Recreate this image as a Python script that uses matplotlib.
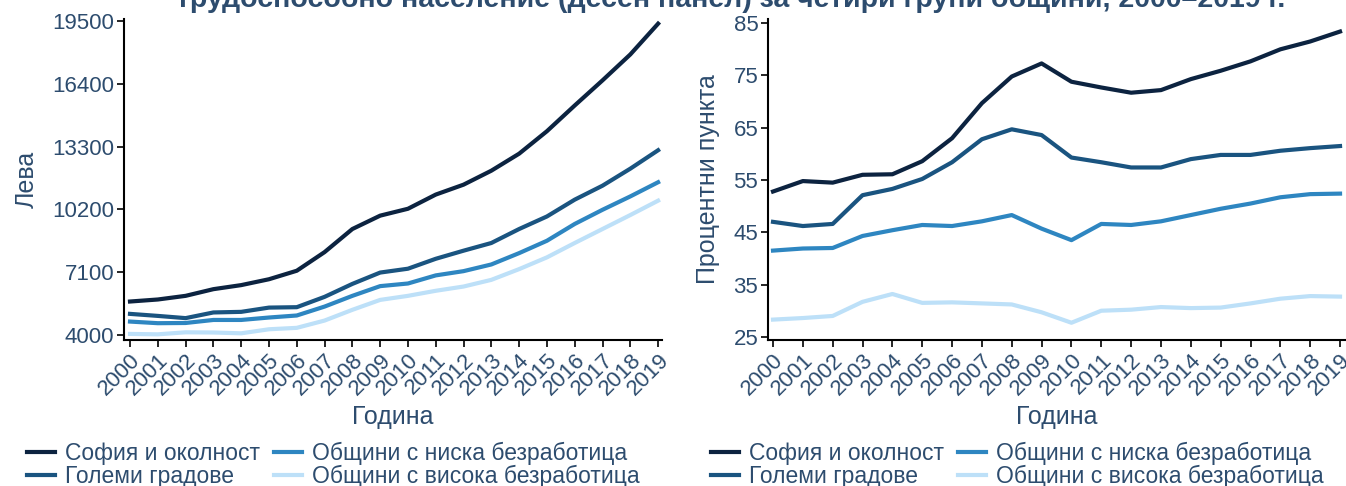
import matplotlib
matplotlib.use("Agg")
import matplotlib.pyplot as plt

years = [str(y) for y in range(2000, 2020)]
series_names = ["София и околност", "Големи градове",
                "Общини с ниска безработица", "Общини с висока безработица"]

# Left panel: average wage (leva)
wage_sofia = [5650, 5750, 5930, 6260, 6460, 6750, 7170, 8090, 9230, 9890,
              10230, 10930, 11420, 12110, 12950, 14060, 15330, 16570, 17850, 19370]
wage_big = [5040, 4940, 4830, 5110, 5140, 5350, 5370, 5880, 6520, 7080,
            7270, 7760, 8160, 8540, 9230, 9850, 10680, 11370, 12210, 13120]
wage_low = [4660, 4580, 4590, 4740, 4740, 4860, 4960, 5400, 5930, 6410,
            6540, 6940, 7150, 7480, 8040, 8650, 9480, 10180, 10840, 11540]
wage_high = [4050, 4030, 4130, 4120, 4080, 4280, 4350, 4710, 5240, 5730,
             5930, 6180, 6390, 6720, 7250, 7830, 8540, 9230, 9920, 10630]

# Right panel: employment rate (percentage points)
emp_sofia = [52.8, 54.8, 54.5, 56.0, 56.1, 58.6, 63.0, 69.7, 74.8, 77.3,
             73.8, 72.7, 71.7, 72.2, 74.3, 75.9, 77.7, 80.0, 81.5, 83.4]
emp_big = [47.0, 46.2, 46.6, 52.1, 53.3, 55.2, 58.4, 62.8, 64.7, 63.6,
           59.3, 58.4, 57.4, 57.4, 59.0, 59.8, 59.8, 60.6, 61.1, 61.5]
emp_low = [41.5, 41.9, 42.0, 44.3, 45.4, 46.4, 46.2, 47.1, 48.3, 45.7,
           43.5, 46.6, 46.4, 47.1, 48.3, 49.5, 50.5, 51.7, 52.3, 52.4]
emp_high = [28.3, 28.6, 29.0, 31.7, 33.2, 31.5, 31.6, 31.4, 31.2, 29.7,
            27.7, 30.0, 30.2, 30.7, 30.5, 30.6, 31.4, 32.3, 32.8, 32.7]

wage_ticks = [4000, 7100, 10200, 13300, 16400, 19500]
emp_ticks = [25, 35, 45, 55, 65, 75, 85]

title_text = "трудоспособно население (десен панел) за четири групи общини, 2000–2019 г."

colors = ["#0c2340", "#1a5480", "#2e86c1", "#bde0f8"]
text_color = "#2d4c6e"

plt.rcParams["font.family"] = ["Liberation Sans", "DejaVu Sans"]

W, H = 1346, 486
fig = plt.figure(figsize=(W / 100, H / 100), dpi=100)

def style_axes(ax, ylabel, yticks, ylim, xlim):
    ax.set_xlim(*xlim)
    ax.set_ylim(*ylim)
    ax.set_xticks(range(len(years)))
    ax.set_xticklabels(years, rotation=45, ha="right", va="top",
                       rotation_mode="anchor", color=text_color, fontsize=16)
    ax.set_yticks(yticks)
    ax.set_yticklabels([str(t) for t in yticks], color=text_color, fontsize=16)
    for s in ["top", "right"]:
        ax.spines[s].set_visible(False)
    for s in ["left", "bottom"]:
        ax.spines[s].set_linewidth(1.5)
        ax.spines[s].set_color("black")
    ax.tick_params(axis="both", length=5, width=1.2, color="black", pad=2)
    ax.set_ylabel(ylabel, color=text_color, fontsize=18, labelpad=10)
    ax.set_xlabel("Година", color=text_color, fontsize=18, labelpad=4)

ax1 = fig.add_axes([124 / W, 1 - 340 / H, 538 / W, 321 / H])
for vals, c, n in zip([wage_sofia, wage_big, wage_low, wage_high], colors, series_names):
    ax1.plot(range(len(years)), vals, color=c, lw=3, label=n)
style_axes(ax1, "Лева", wage_ticks, (3750, 19600), (-0.216, 19.14))

ax2 = fig.add_axes([768 / W, 1 - 340 / H, 578 / W, 321 / H])
for vals, c, n in zip([emp_sofia, emp_big, emp_low, emp_high], colors, series_names):
    ax2.plot(range(len(years)), vals, color=c, lw=3, label=n)
style_axes(ax2, "Процентни пункта", emp_ticks, (24.4, 85.8), (-0.168, 19.2))

for ax, x0 in [(ax1, 16 / W), (ax2, 700 / W)]:
    h, l = ax.get_legend_handles_labels()
    fig.legend(h, l, loc="upper left", bbox_to_anchor=(x0, 1 - 430 / H),
               ncol=2, frameon=False, fontsize=16.5, handlelength=1.2,
               handletextpad=0.45, columnspacing=0.6, labelspacing=0.0,
               borderpad=0.0, labelcolor=text_color)

fig.text(0.543, 1 - 7 / H, title_text, ha="center", va="baseline",
         fontsize=20.5, fontweight="bold", color=text_color)

fig.savefig("out.png", dpi=100)
